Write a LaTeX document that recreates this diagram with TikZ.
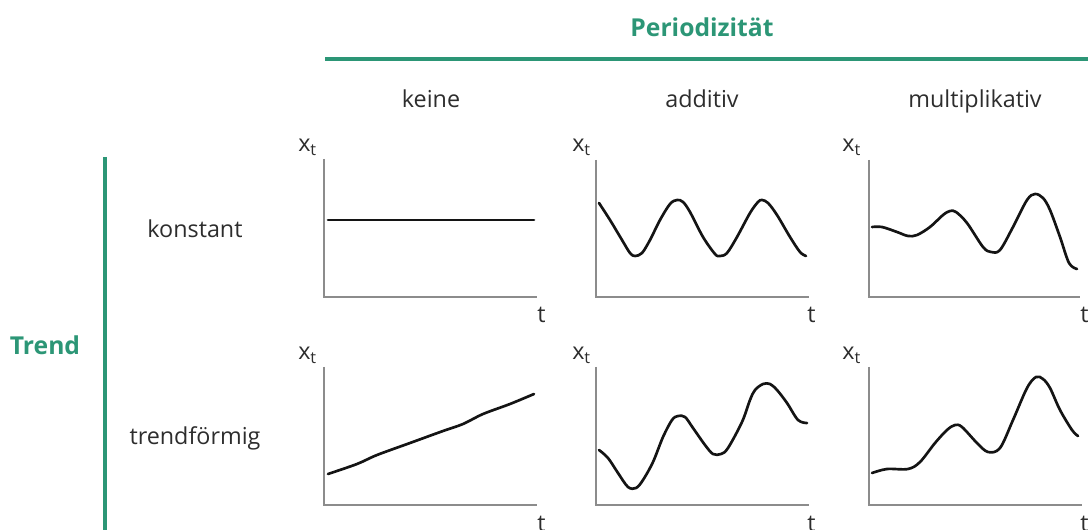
\documentclass[tikz,border=0pt]{standalone}
\usepackage{fontspec}
\setmainfont{Open Sans}
\begin{document}
\definecolor{grn}{RGB}{44,150,118}
\definecolor{txt}{RGB}{45,45,45}
\definecolor{axgray}{RGB}{140,140,140}
\begin{tikzpicture}[x=0.75pt,y=-0.75pt,
  lbl/.style={font=\fontsize{17.5}{20}\selectfont, text=txt, inner sep=0pt},
  hdr/.style={font=\bfseries\fontsize{18.5}{22}\selectfont, text=grn, inner sep=0pt},
  axlbl/.style={font=\fontsize{17.5}{20}\selectfont, text=txt, inner sep=0pt, anchor=base west},
  greenline/.style={draw=grn, line width=3pt},
  axisline/.style={draw=axgray, line width=1.6pt},
  curve/.style={draw=black!92, line width=2pt, line join=round, line cap=round}]
\useasboundingbox (0,0) rectangle (1088,530);
% headers
\node[hdr, anchor=base] (per) at (702,37) {Periodizität};
\node[hdr, anchor=base] (trend) at (45,355) {Trend};
\coordinate (hl1) at (325,59);
\coordinate (hl2) at (1088,59);
\draw[greenline] (hl1) -- (hl2);
\coordinate (vl1) at (105,157);
\coordinate (vl2) at (105,532);
\draw[greenline] (vl1) -- (vl2);
\node[lbl, anchor=base] (keine) at (431,108) {keine};
\node[lbl, anchor=base] (add) at (702,108) {additiv};
\node[lbl, anchor=base] (mult) at (975,108) {multiplikativ};
\node[lbl, anchor=base] (konst) at (195,238) {konstant};
\node[lbl, anchor=base] (tf) at (195,445) {trendförmig};
% axes
\foreach \n/\xa/\xb/\ya/\yb in {a/324/537/159/297, b/596/809/160/297, c/869/1080/160/297,
                                d/324/537/367/505, e/596/809/367/505, f/869/1082/367/505}{
  \coordinate (\n top) at (\xa,\ya);
  \coordinate (\n right) at (\xb,\yb);
  \draw[axisline] (\n top) |- (\n right);
}
% axis labels
\node[axlbl] (xa) at (298,152) {x\textsubscript{t}};
\node[axlbl] (xb) at (572,152) {x\textsubscript{t}};
\node[axlbl] (xc) at (842,152) {x\textsubscript{t}};
\node[axlbl] (xd) at (298,360) {x\textsubscript{t}};
\node[axlbl] (xe) at (572,360) {x\textsubscript{t}};
\node[axlbl] (xf) at (842,360) {x\textsubscript{t}};
\node[axlbl] (ta) at (537,323) {t};
\node[axlbl] (tb) at (807,323) {t};
\node[axlbl] (tc) at (1080,323) {t};
\node[axlbl] (td) at (537,531) {t};
\node[axlbl] (te) at (807,531) {t};
\node[axlbl] (tf2) at (1080,531) {t};
% curves
\draw[curve] (328,220) -- (534,220);
\draw[curve] plot[smooth, tension=0.55] coordinates {
 (599,203) (610,220) (622,240) (630,253) (635,256) (642,253) (650,240) (660,220) (670,204) (677,200)
 (683,202) (690,212) (703,237) (715,254) (720,256) (727,253) (737,237) (750,213) (758,202) (762,200)
 (768,203) (777,215) (790,237) (800,252) (806,256)};
\draw[curve] plot[smooth, tension=0.55] coordinates {
 (872,227) (882,227) (897,232) (908,236) (917,235) (930,227) (943,215) (950,211) (956,212) (967,223)
 (983,247) (991,252) (1000,250) (1013,227) (1027,200) (1035,194) (1043,198) (1050,210) (1060,237)
 (1069,263) (1077,269)};
\draw[curve] plot[smooth, tension=0.5] coordinates {
 (328,474) (357,464) (377,455) (410,443) (443,431) (463,424) (483,414) (510,404) (534,394)};
\draw[curve] plot[smooth, tension=0.55] coordinates {
 (599,450) (608,458) (618,473) (628,487) (636,488) (643,480) (653,462) (663,437) (672,420) (678,416)
 (685,417) (693,428) (705,445) (713,454) (721,454) (728,448) (742,422) (750,400) (755,390) (763,384)
 (770,384) (777,390) (787,403) (798,420) (807,423)};
\draw[curve] plot[smooth, tension=0.55] coordinates {
 (872,473) (887,469) (908,469) (920,462) (935,443) (947,430) (955,425) (962,427) (977,443) (988,452)
 (1000,448) (1013,420) (1027,388) (1036,377) (1043,379) (1050,388) (1060,410) (1072,430) (1078,436)};
\end{tikzpicture}
\end{document}
